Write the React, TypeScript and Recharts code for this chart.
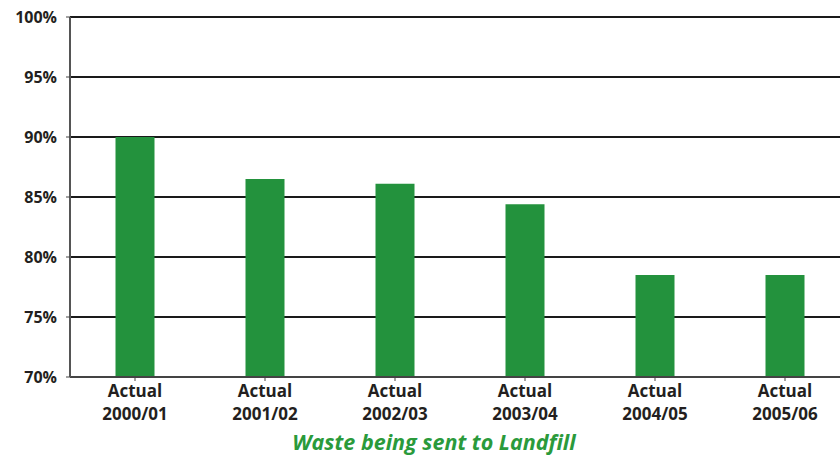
import React from "react"
import { BarChart, Bar, XAxis, YAxis, CartesianGrid } from "recharts"

const years = ["2000/01", "2001/02", "2002/03", "2003/04", "2004/05", "2005/06"]
const landfillShare = [90, 86.5, 86.1, 84.4, 78.5, 78.5]
const yTicks = [70, 75, 80, 85, 90, 95, 100]

const data = years.map((y, i) => ({ name: y, value: landfillShare[i] }))

const font = "'Open Sans', 'DejaVu Sans', sans-serif"

function CatTick(props: any) {
  const { x, y, payload } = props
  return (
    <text x={x} y={y} textAnchor="middle" fill="#231f20" fontFamily={font} fontSize={17} fontWeight={700}>
      <tspan x={x} dy={14}>Actual</tspan>
      <tspan x={x} dy={23}>{payload.value}</tspan>
    </text>
  )
}

export default function App() {
  return (
    <div style={{ position: "absolute", left: 0, top: 0, width: 840, height: 457, overflow: "hidden", background: "#fff" }}>
      <BarChart width={860} height={457} data={data} margin={{ top: 17, right: 10, bottom: 0, left: 0 }} barCategoryGap="35%">
        <CartesianGrid vertical={false} stroke="#1a1a1a" strokeWidth={2} />
        <XAxis
          dataKey="name"
          height={80}
          tick={<CatTick />}
          tickLine={{ stroke: "#444" }}
          tickSize={4}
          axisLine={{ stroke: "#444", strokeWidth: 2 }}
          interval={0}
          label={{ value: "Waste being sent to Landfill", position: "insideBottom", offset: 7, fill: "#2a9a3b", fontFamily: font, fontSize: 21.5, fontWeight: 700, fontStyle: "italic", dx: -26 }}
        />
        <YAxis
          domain={[70, 100]}
          ticks={yTicks}
          width={70}
          tickFormatter={(v: number) => `${v}%`}
          tick={{ fill: "#231f20", fontFamily: font, fontSize: 16, fontWeight: 700 }}
          tickSize={4}
          tickMargin={9}
          tickLine={{ stroke: "#444" }}
          axisLine={{ stroke: "#555", strokeWidth: 2 }}
          allowDataOverflow
        />
        <Bar dataKey="value" fill="#23923d" isAnimationActive={false} />
      </BarChart>
    </div>
  )
}
